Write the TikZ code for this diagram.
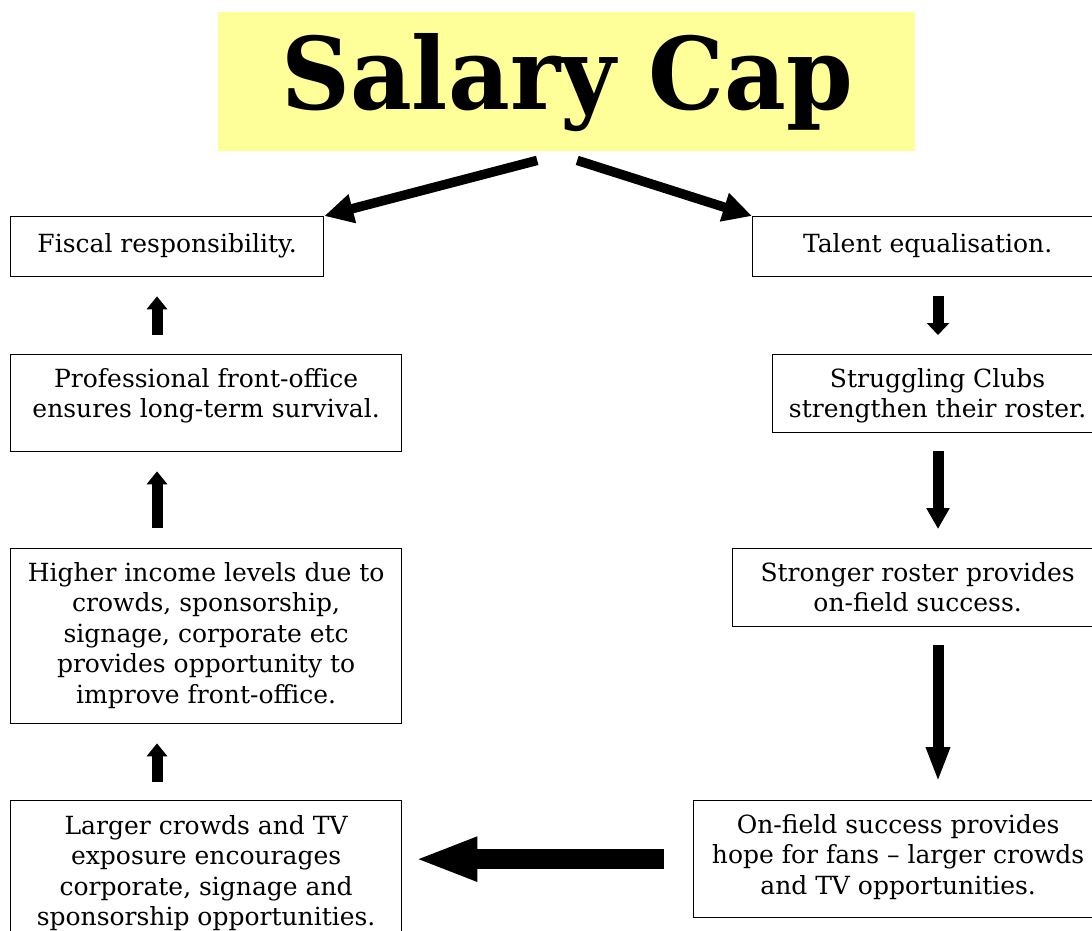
\documentclass[tikz,border=0pt]{standalone}
\usepackage{fontspec}
\setmainfont{DejaVu Serif}
\usetikzlibrary{arrows.meta,calc}
\definecolor{titlefill}{RGB}{255,255,153}

% centred block of lines whose baseline is that of the first line
\newcommand{\stackedlines}[1]{\begin{tabular}[t]{@{}c@{}}#1\end{tabular}}

\tikzset{
  box/.style={draw=black, line width=1.3pt, inner sep=0pt, anchor=north west},
  boxtext/.style={inner sep=0pt, anchor=base,
    font=\fontsize{25}{30.5}\selectfont},
  thinarrow/.style={line width=11pt, draw=black},
  bigarrow/.style={line width=20pt, draw=black,
    -{Triangle[length=63pt,width=40pt]}},
  diagarrow/.style={line width=9.5pt, draw=black,
    -{Triangle[length=29pt,width=28pt]}},
}

\begin{document}
\begin{tikzpicture}[x=1pt,y=-1pt]
\useasboundingbox (0,0) rectangle (1092,931);
\fill[white] (0,0) rectangle (1092,931);
\clip (0,0) rectangle (1092,931);

% title banner
\node[fill=titlefill, inner sep=0pt, minimum width=697pt, minimum height=139pt,
      anchor=north west] (title) at (218,12) {};
\node[inner sep=0pt, anchor=base west] (titletext) at (281,110)
  {\resizebox{572pt}{76pt}{\bfseries Salary Cap}};

% left column
\node[box, minimum width=313pt, minimum height=60pt]  (fiscal) at (10,216) {};
\node[box, minimum width=391pt, minimum height=97pt]  (prof)   at (10,354) {};
\node[box, minimum width=391pt, minimum height=175pt] (income) at (10,548) {};
\node[box, minimum width=391pt, minimum height=160pt] (larger) at (10,800) {};

% right column
\node[box, minimum width=350pt, minimum height=60pt]  (talent)  at (752,216) {};
\node[box, minimum width=330pt, minimum height=78pt]  (strug)   at (772,354) {};
\node[box, minimum width=370pt, minimum height=78pt]  (strong)  at (732,548) {};
\node[box, minimum width=409pt, minimum height=117pt] (onfield) at (693,800) {};

% box texts
\node[boxtext] (fiscal-t) at ($(fiscal.north)+(0,36)$) {Fiscal responsibility.};
\node[boxtext] (prof-t) at ($(prof.north)+(0,33)$)
  {\stackedlines{Professional front-office\\ensures long-term survival.}};
\node[boxtext] (income-t) at ($(income.north)+(0,33)$)
  {\stackedlines{Higher income levels due to\\crowds, sponsorship,\\signage, corporate etc\\provides opportunity to\\improve front-office.}};
\node[boxtext] (larger-t) at ($(larger.north)+(0,34)$)
  {\stackedlines{Larger crowds and TV\\exposure encourages\\corporate, signage and\\sponsorship opportunities.}};
\node[boxtext] (talent-t) at ($(talent.north)+(0,36)$) {Talent equalisation.};
\node[boxtext] (strug-t) at ($(strug.north)+(0,33)$)
  {\stackedlines{Struggling Clubs\\strengthen their roster.}};
\node[boxtext] (strong-t) at ($(strong.north)+(0,33)$)
  {\stackedlines{Stronger roster provides\\on-field success.}};
\node[boxtext] (onfield-t) at ($(onfield.north)+(0,33)$)
  {\stackedlines{On-field success provides\\hope for fans -- larger crowds\\and TV opportunities.}};

% arrow columns
\coordinate (lx) at (157,0);
\coordinate (rx) at (938,0);

% from the title
\draw[diagarrow] ($(title.south)+(-29.5,9)$) -- (fiscal.north east);
\draw[diagarrow] ($(title.south)+(10.5,9)$) -- (talent.north west);

% right column, downwards
\draw[thinarrow, -{Triangle[length=12pt,width=22pt]}, shorten <=19pt, shorten >=19pt]
  (rx |- talent.south) -- (rx |- strug.north);
\draw[thinarrow, -{Triangle[length=21pt,width=22pt]}, shorten <=18pt, shorten >=19pt]
  (rx |- strug.south) -- (rx |- strong.north);
\draw[thinarrow, -{Triangle[length=35pt,width=22pt]}, shorten <=18pt, shorten >=18pt]
  (rx |- strong.south) -- (rx |- onfield.north);

% bottom, leftwards
\draw[bigarrow, shorten <=29pt, shorten >=12pt]
  (onfield.west) -- (larger.east |- onfield.west);

% left column, upwards
\draw[thinarrow, -{Triangle[length=13pt,width=20pt]}, shorten <=18pt, shorten >=19pt]
  (lx |- larger.north) -- (lx |- income.south);
\draw[thinarrow, -{Triangle[length=13pt,width=20pt]}, shorten <=20pt, shorten >=19pt]
  (lx |- income.north) -- (lx |- prof.south);
\draw[thinarrow, -{Triangle[length=13pt,width=20pt]}, shorten <=19pt, shorten >=19pt]
  (lx |- prof.north) -- (lx |- fiscal.south);
\end{tikzpicture}
\end{document}
